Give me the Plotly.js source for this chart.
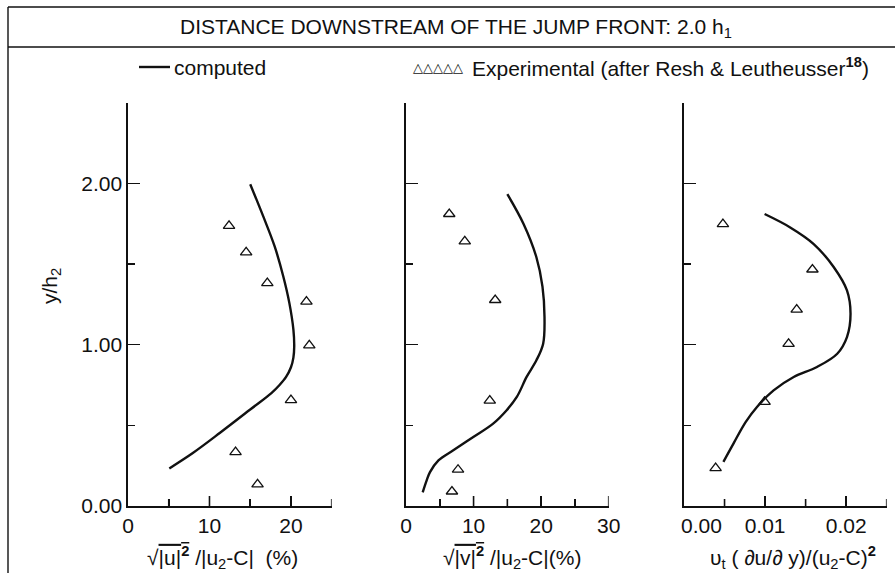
<!DOCTYPE html>
<html>
<head>
<meta charset="utf-8">
<script src="https://cdn.plot.ly/plotly-3.0.1.min.js"></script>
<style>html,body{margin:0;padding:0;background:#fff;}#chart{width:895px;height:573px;}</style>
</head>
<body>
<div id="chart"></div>
<script>
// ---- Panel 1: sqrt(u'^2)/|u2-C| (%) ----
var uCompX = [15.0, 16.6, 18.0, 19.06, 19.8, 20.3, 20.4, 20.3, 20.0, 19.4, 18.6, 17.6, 15.0, 11.3, 8.0, 5.07];
var uCompY = [1.995, 1.795, 1.609, 1.423, 1.259, 1.093, 0.99, 0.92, 0.86, 0.80, 0.75, 0.70, 0.598, 0.454, 0.33, 0.233];
var uExpX = [12.4, 14.5, 17.1, 21.9, 22.25, 20.0, 13.2, 15.9];
var uExpY = [1.737, 1.572, 1.382, 1.267, 0.996, 0.656, 0.334, 0.134];

// ---- Panel 2: sqrt(v'^2)/|u2-C| (%) ----
var vCompX = [15.0, 17.4, 19.3, 20.2, 20.5, 20.3, 19.3, 17.85, 16.4, 14.9, 12.9, 9.96, 7.0, 4.8, 3.55, 3.06, 2.47];
var vCompY = [1.933, 1.748, 1.542, 1.36, 1.17, 1.006, 0.903, 0.8, 0.676, 0.594, 0.511, 0.428, 0.345, 0.283, 0.21, 0.159, 0.085];
var vExpX = [6.4, 8.7, 13.2, 31.85, 12.4, 7.7, 6.8];
var vExpY = [1.81, 1.64, 1.277, 1.0, 0.653, 0.225, 0.09];

// ---- Panel 3: nu_t (du/dy)/(u2-C)^2 ----
var nCompX = [0.00994, 0.0131, 0.016, 0.01848, 0.0201, 0.02054, 0.0201, 0.0189, 0.0164, 0.01353, 0.01105, 0.009, 0.0076, 0.0061, 0.00486];
var nCompY = [1.81, 1.727, 1.624, 1.48, 1.336, 1.191, 1.047, 0.944, 0.862, 0.8, 0.717, 0.614, 0.52, 0.387, 0.274];
var nExpX = [0.0048, 0.01584, 0.0139, 0.0129, 0.00994, 0.0039];
var nExpY = [1.747, 1.466, 1.217, 1.005, 0.646, 0.235];

// ---- Tick labels ----
var yTickVals = [0, 1, 2];
var yTickText = ["0.00", "1.00", "2.00"];
var yMinorVals = [0.5, 1.5, 2.5];
var x1TickVals = [0, 10, 20];
var x1TickText = ["0", "10", "20"];
var x1MinorVals = [5, 15, 25];
var x2TickVals = [0, 10, 20, 30];
var x2TickText = ["0", "10", "20", "30"];
var x2MinorVals = [5, 15, 25];
var x3TickVals = [0, 0.01, 0.02];
var x3TickText = ["\u00a0\u00a0\u00a0\u00a0\u00a0\u00a00.00", "0.01", "0.02"];
var x3MinorVals = [0.005, 0.015, 0.025];

var FONT = "Liberation Sans, Arial, Helvetica, sans-serif";
var INK = "#111111";
var W = 895, H = 573;
function px(x){ return x / W; }
function py(y){ return 1 - y / H; }

var lineStyle = {color: INK, width: 2.4, shape: "spline"};
var markStyle = {symbol: "triangle-up-open", size: 10, color: INK, line: {color: INK, width: 1.3}};

var traces = [
  {x: uCompX, y: uCompY, xaxis: "x", yaxis: "y", mode: "lines", line: lineStyle},
  {x: uExpX, y: uExpY, xaxis: "x", yaxis: "y", mode: "markers", marker: markStyle, cliponaxis: false},
  {x: vCompX, y: vCompY, xaxis: "x2", yaxis: "y2", mode: "lines", line: lineStyle},
  {x: vExpX, y: vExpY, xaxis: "x2", yaxis: "y2", mode: "markers", marker: markStyle, cliponaxis: false},
  {x: nCompX, y: nCompY, xaxis: "x3", yaxis: "y3", mode: "lines", line: lineStyle},
  {x: nExpX, y: nExpY, xaxis: "x3", yaxis: "y3", mode: "markers", marker: markStyle, cliponaxis: false}
];

var yDom = [py(506), py(102.7)];

function xAxis(dom, range, tv, tt, mv, anchor){
  return {
    domain: dom, range: range, anchor: anchor,
    tickmode: "array", tickvals: tv, ticktext: tt,
    ticks: "inside", ticklen: 10, tickwidth: 1.6, tickcolor: INK,
    minor: {tickmode: "array", tickvals: mv, ticks: "inside", ticklen: 7, tickwidth: 1.6, tickcolor: INK},
    showline: true, linecolor: INK, linewidth: 1.6,
    showgrid: false, zeroline: false,
    tickfont: {family: FONT, size: 21, color: INK},
    fixedrange: true
  };
}
function yAxis(anchor, showLabels){
  return {
    domain: yDom, range: [0, 2.5], anchor: anchor,
    tickmode: "array", tickvals: yTickVals, ticktext: yTickText,
    showticklabels: showLabels,
    ticks: "inside", ticklen: 12, tickwidth: 1.6, tickcolor: INK,
    minor: {tickmode: "array", tickvals: yMinorVals, ticks: "inside", ticklen: 7, tickwidth: 1.6, tickcolor: INK},
    showline: true, linecolor: INK, linewidth: 1.6,
    showgrid: false, zeroline: false,
    tickfont: {family: FONT, size: 21, color: INK},
    fixedrange: true
  };
}

// x-axis tick marks (pointing up from the axis), placed at the tick values through the axes
function tickShapes(xref, yref, vals, len){
  return vals.filter(function(v){ return v !== 0; }).map(function(v){
    return {type: "line", xref: xref, yref: yref, x0: v, x1: v,
      ysizemode: "pixel", yanchor: 0, y0: 0, y1: len,
      line: {color: INK, width: 1.6}, layer: "above"};
  });
}

var shapes = [
  {type: "line", xref: "paper", yref: "paper", x0: px(8), x1: 1, y0: py(7), y1: py(7), line: {color: INK, width: 1.4}},
  {type: "line", xref: "paper", yref: "paper", x0: px(8), x1: 1, y0: py(47), y1: py(47), line: {color: INK, width: 1.4}},
  {type: "line", xref: "paper", yref: "paper", x0: px(8), x1: px(8), y0: py(7), y1: 0, line: {color: INK, width: 1.4}},
  {type: "line", xref: "paper", yref: "paper", x0: px(139), x1: px(170), y0: py(67), y1: py(67), line: {color: INK, width: 2.4}}
].concat(
  tickShapes("x", "y", x1TickVals, 10), tickShapes("x", "y", x1MinorVals, 7),
  tickShapes("x2", "y2", x2TickVals, 10), tickShapes("x2", "y2", x2MinorVals, 7),
  tickShapes("x3", "y3", x3TickVals, 10), tickShapes("x3", "y3", x3MinorVals, 7)
);

var layout = {
  width: W, height: H,
  margin: {l: 0, r: 0, t: 0, b: 0},
  paper_bgcolor: "#fff", plot_bgcolor: "rgba(0,0,0,0)",
  showlegend: false,
  font: {family: FONT, color: INK},
  xaxis: xAxis([px(128), px(331.7)], [0, 25], x1TickVals, x1TickText, x1MinorVals, "y"),
  xaxis2: xAxis([px(406), px(608.7)], [0, 30], x2TickVals, x2TickText, x2MinorVals, "y2"),
  xaxis3: xAxis([px(684), px(886.7)], [0, 0.025], x3TickVals, x3TickText, x3MinorVals, "y3"),
  yaxis: yAxis("x", true),
  yaxis2: yAxis("x2", false),
  yaxis3: yAxis("x3", false),
  shapes: shapes,
  annotations: [
    {xref: "paper", yref: "paper", x: px(456), y: py(28), xanchor: "center", yanchor: "middle", showarrow: false,
     text: "DISTANCE DOWNSTREAM OF THE JUMP FRONT: 2.0 h<sub>1</sub>", font: {family: FONT, size: 21, color: INK}},
    {xref: "paper", yref: "paper", x: px(172), y: py(67), xanchor: "left", yanchor: "middle", showarrow: false,
     text: "computed", font: {family: FONT, size: 21, color: INK}},
    {xref: "paper", yref: "paper", x: px(411), y: py(68), xanchor: "left", yanchor: "middle", showarrow: false,
     text: "\u25b3\u25b3\u25b3\u25b3\u25b3", font: {family: "DejaVu Sans", size: 13, color: INK}},
    {xref: "paper", yref: "paper", x: px(470), y: py(67), xanchor: "left", yanchor: "middle", showarrow: false,
     text: "Experimental (after Resh &amp; Leutheusser<sup><b>18</b></sup>)", font: {family: FONT, size: 21, color: INK}},
    {xref: "paper", yref: "paper", x: px(51), y: py(286), xanchor: "center", yanchor: "middle", showarrow: false, textangle: -90,
     text: "y/h<sub>2</sub>", font: {family: FONT, size: 21, color: INK}},
    {xref: "paper", yref: "paper", x: px(222), y: py(557), xanchor: "center", yanchor: "middle", showarrow: false,
     text: "\u221a<span style=\"text-decoration:overline\">|u|<sup><b>2</b></sup></span> /|u<sub>2</sub>-C|  (%)", font: {family: FONT, size: 21, color: INK}},
    {xref: "paper", yref: "paper", x: px(512), y: py(557), xanchor: "center", yanchor: "middle", showarrow: false,
     text: "\u221a<span style=\"text-decoration:overline\">|v|<sup><b>2</b></sup></span> /|u<sub>2</sub>-C|(%)", font: {family: FONT, size: 21, color: INK}},
    {xref: "paper", yref: "paper", x: px(793), y: py(557), xanchor: "center", yanchor: "middle", showarrow: false,
     text: "\u03c5<sub>t</sub> ( \u2202u/\u2202 y)/(u<sub>2</sub>-C)<sup><b>2</b></sup>", font: {family: FONT, size: 21, color: INK}}
  ]
};

Plotly.newPlot("chart", traces, layout, {staticPlot: true});
</script>
</body>
</html>
